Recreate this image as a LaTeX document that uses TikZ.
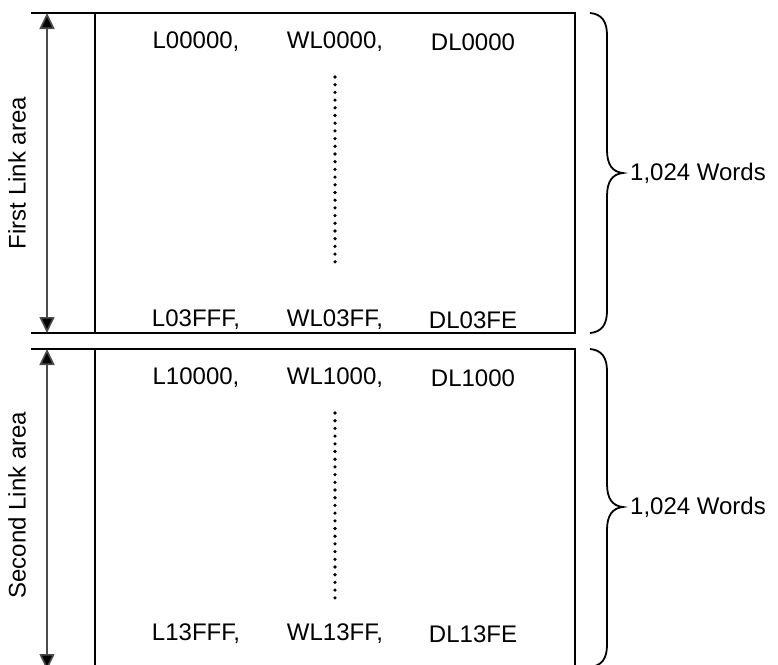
\documentclass[tikz,border=0pt]{standalone}
\usepackage{fontspec}
\setmainfont{Liberation Sans}
\usetikzlibrary{arrows.meta}
\begin{document}
\begin{tikzpicture}[x=1pt,y=-1pt,
  every node/.style={font=\fontsize{24}{28}\selectfont, inner sep=0pt},
  area/.style={draw=black, line width=1.8pt, minimum width=480pt, anchor=north west, outer sep=0pt},
  rule/.style={draw=black, line width=1.6pt},
  span/.style={draw=black!70, line width=1.6pt, {Triangle[length=16pt,width=15pt,fill=black]}-{Triangle[length=16pt,width=15pt,fill=black]}},
  brace/.style={draw=black, line width=1.8pt},
  dots/.style={draw=black, line width=3.6pt, line cap=round, dash pattern=on 0pt off 7.7pt}]
\clip (0,0) rectangle (778,664);
\node[area, minimum height=320pt] (box1) at (95,13) {};
\node[area, minimum height=330pt] (box2) at (95,349) {};
% extension lines
\coordinate (t1) at (31,13);
\coordinate (b1) at (31,333);
\coordinate (t2) at (31,349);
\draw[rule] (t1) -- (box1.north west);
\draw[rule] (b1) -- (box1.south west);
\draw[rule] (t2) -- (box2.north west);
% span arrows
\coordinate (a1t) at (47,13);
\coordinate (a1b) at (47,333);
\coordinate (a2t) at (47,349);
\coordinate (a2b) at (47,670);
\draw[span] (a1t) -- (a1b);
\draw[span] (a2t) -- (a2b);
\node[rotate=90] (lab1) at (17,173) {First Link area};
\node[rotate=90] (lab2) at (17,505) {Second Link area};
% row texts
\node (r1a) at (196,42) {L00000,};
\node (r1b) at (335,42) {WL0000,};
\node (r1c) at (473,42) {DL0000};
\node (r2a) at (196,320) {L03FFF,};
\node (r2b) at (335,320) {WL03FF,};
\node (r2c) at (473,320) {DL03FE};
\node (r3a) at (196,378) {L10000,};
\node (r3b) at (335,378) {WL1000,};
\node (r3c) at (473,378) {DL1000};
\node (r4a) at (196,634) {L13FFF,};
\node (r4b) at (335,634) {WL13FF,};
\node (r4c) at (473,634) {DL13FE};
% dotted lines
\coordinate (d1s) at (335,77);
\coordinate (d1e) at (335,263);
\coordinate (d2s) at (335,413);
\coordinate (d2e) at (335,599);
\draw[dots] (d1s) -- (d1e);
\draw[dots] (d2s) -- (d2e);
% braces
\draw[brace] (590,13) .. controls (602,14) and (607,22) .. (607,35) -- (607,150)
  .. controls (607,164) and (612,172) .. (623,173)
  .. controls (612,174) and (607,182) .. (607,196) -- (607,311)
  .. controls (607,324) and (602,332) .. (590,333);
\draw[brace] (590,349) .. controls (602,350) and (607,358) .. (607,371) -- (607,484)
  .. controls (607,498) and (612,506) .. (623,507)
  .. controls (612,508) and (607,516) .. (607,530) -- (607,645)
  .. controls (607,658) and (602,666) .. (590,667);
\node[anchor=west] (w1) at (630,173) {1,024 Words};
\node[anchor=west] (w2) at (630,507) {1,024 Words};
\end{tikzpicture}
\end{document}
